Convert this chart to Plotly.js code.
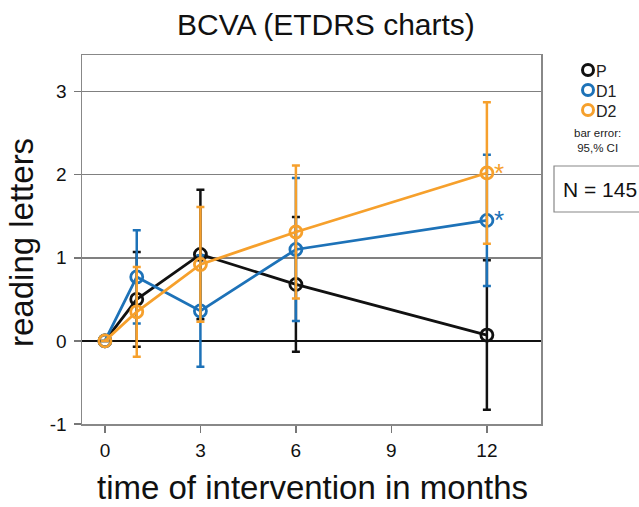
<!DOCTYPE html>
<html>
<head>
<meta charset="utf-8">
<script src="https://cdn.plot.ly/plotly-3.0.1.min.js"></script>
<style>html,body{margin:0;padding:0;background:#fff;}#chart{width:639px;height:507px;}</style>
</head>
<body>
<div id="chart"></div>
<script>
// Data
const months = [0, 1, 3, 6, 12];
const seriesNames = ["P", "D1", "D2"];
const pMean  = [0, 0.50, 1.04, 0.68, 0.07];
const pErr   = [0, 0.57, 0.78, 0.81, 0.90];
const d1Mean = [0, 0.77, 0.36, 1.10, 1.45];
const d1Err  = [0, 0.56, 0.67, 0.86, 0.79];
const d2Mean = [0, 0.35, 0.92, 1.31, 2.02];
const d2Err  = [0, 0.54, 0.69, 0.80, 0.85];
const xTicks = [0, 3, 6, 9, 12];
const yTicks = [-1, 0, 1, 2, 3];
const significant = [{name: "D2", y: d2Mean[4]}, {name: "D1", y: d1Mean[4]}];

const colors = {P: "#111111", D1: "#1d72b8", D2: "#f6a02c"};
const FONT = "Liberation Sans, Arial, sans-serif";

// plot area in pixels (for paper-coordinate placement of decorations)
const PL = 82, PR = 541, PT = 55, PB = 424;
const px = v => (v - PL) / (PR - PL);
const py = v => (PB - v) / (PB - PT);

function mk(name, y, e) {
  return {
    x: months, y: y, name: name, type: "scatter", mode: "lines+markers",
    line: {color: colors[name], width: 2.8},
    marker: {symbol: "circle-open", size: 12, color: colors[name], line: {width: 2.8, color: colors[name]}},
    error_y: {type: "data", array: e, visible: true, color: colors[name], thickness: 2.5, width: 4},
    showlegend: false, cliponaxis: false
  };
}
const data = [mk("P", pMean, pErr), mk("D1", d1Mean, d1Err), mk("D2", d2Mean, d2Err)];

const annotations = [
  {text: "BCVA (ETDRS charts)", xref: "paper", yref: "paper", x: px(326), y: py(24), xanchor: "center", yanchor: "middle",
   showarrow: false, font: {family: FONT, size: 30, color: "#111"}},
  {text: "time of intervention in months", xref: "paper", yref: "paper", x: px(312), y: py(487), xanchor: "center", yanchor: "middle",
   showarrow: false, font: {family: FONT, size: 33, color: "#111"}},
  {text: "reading letters", xref: "paper", yref: "paper", x: px(21), y: py(243), xanchor: "center", yanchor: "middle",
   textangle: -90, showarrow: false, font: {family: FONT, size: 33, color: "#111"}}
];
significant.forEach(s => annotations.push({
  text: "*", x: 12, y: s.y, xref: "x", yref: "y", xshift: 12, yshift: 0, showarrow: false,
  font: {family: FONT, size: 26, color: colors[s.name]}
}));
const shapes = [];
seriesNames.forEach((n, i) => {
  const cy = 70 + i * 20;
  shapes.push({type: "circle", xref: "paper", yref: "paper", xsizemode: "pixel", ysizemode: "pixel",
    xanchor: px(588), yanchor: py(cy), x0: -5.5, x1: 5.5, y0: -5.5, y1: 5.5, line: {color: colors[n], width: 3}});
  annotations.push({text: n, xref: "paper", yref: "paper", x: px(594), y: py(cy + 1), xanchor: "left", yanchor: "middle",
    showarrow: false, font: {family: FONT, size: 16, color: "#222"}});
});
annotations.push({text: "bar error:<br>95,% CI", xref: "paper", yref: "paper", x: px(597), y: py(140),
  xanchor: "center", yanchor: "middle", showarrow: false, font: {family: FONT, size: 11.5, color: "#222"}});
shapes.push({type: "rect", xref: "paper", yref: "paper", x0: px(554), x1: px(650),
  y0: py(212), y1: py(166), line: {color: "#888", width: 1.2}});
annotations.push({text: "N = 145", xref: "paper", yref: "paper", x: px(561), y: py(189),
  xanchor: "left", yanchor: "middle", showarrow: false, font: {family: FONT, size: 21, color: "#111"}});

const layout = {
  width: 639, height: 507,
  margin: {l: PL, r: 639 - PR, t: PT, b: 507 - PB},
  paper_bgcolor: "#fff", plot_bgcolor: "#fff",
  showlegend: false,
  xaxis: {
    range: [-0.72, 13.7], tickvals: xTicks, ticktext: xTicks.map(String),
    showgrid: false, zeroline: false, showline: true, mirror: true, linecolor: "#888", linewidth: 1.5,
    ticks: "outside", ticklen: 7, tickwidth: 1.5, tickcolor: "#777",
    tickfont: {family: FONT, size: 19, color: "#111"}, ticklabelstandoff: 2,
    automargin: false
  },
  yaxis: {
    range: [-1, 3.44], tickvals: yTicks, ticktext: yTicks.map(String),
    showgrid: true, gridcolor: "#808080", gridwidth: 1.6,
    zeroline: true, zerolinecolor: "#111", zerolinewidth: 2.6,
    showline: true, mirror: true, linecolor: "#888", linewidth: 1.5,
    ticks: "outside", ticklen: 7, tickwidth: 1.5, tickcolor: "#777",
    tickfont: {family: FONT, size: 19, color: "#111"}, ticklabelstandoff: 3,
    automargin: false
  },
  annotations: annotations, shapes: shapes
};
Plotly.newPlot("chart", data, layout, {staticPlot: true, displayModeBar: false});
</script>
</body>
</html>
